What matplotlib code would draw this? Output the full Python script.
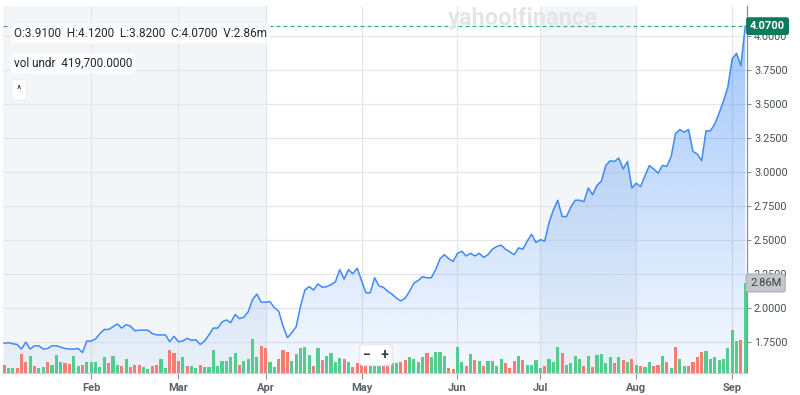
import numpy as np
import pandas as pd
import matplotlib
matplotlib.use("Agg")
import matplotlib.pyplot as plt
import matplotlib.transforms as mtransforms

plt.rcParams["font.family"] = ["Roboto", "DejaVu Sans"]

# === DATA ===
# US market holidays inside the window (trading days only on the x axis)
holidays = ["2024-01-15", "2024-02-19", "2024-03-29", "2024-05-27",
            "2024-06-19", "2024-07-04", "2024-09-02"]
month_labels = ["Feb", "Mar", "Apr", "May", "Jun", "Jul", "Aug", "Sep"]
price_ticks = [1.75, 2.00, 2.25, 2.50, 2.75, 3.00, 3.25, 3.50, 3.75, 4.00]

close = [
    1.738, 1.743, 1.735, 1.73, 1.696, 1.747, 1.696, 1.72, 1.72, 1.696,
    1.70, 1.72, 1.72, 1.71, 1.70, 1.696, 1.696, 1.70, 1.67, 1.755,
    1.755, 1.77, 1.81, 1.84, 1.84, 1.86, 1.88, 1.85, 1.875, 1.865,
    1.83, 1.835, 1.835, 1.835, 1.81, 1.80, 1.80, 1.80, 1.75, 1.79,
    1.75, 1.755, 1.775, 1.76, 1.765, 1.73, 1.755, 1.80, 1.85, 1.85,
    1.895, 1.91, 1.89, 1.95, 1.92, 1.93, 1.97, 2.06, 2.10, 2.04,
    2.04, 2.045, 2.00, 1.975, 1.865, 1.78, 1.815, 1.86, 2.01, 2.13,
    2.155, 2.13, 2.175, 2.15, 2.155, 2.17, 2.19, 2.28, 2.21, 2.28,
    2.25, 2.29, 2.20, 2.11, 2.11, 2.22, 2.16,
    2.15, 2.12, 2.10, 2.07, 2.05, 2.07, 2.12, 2.18, 2.20,
    2.228, 2.22, 2.22, 2.28, 2.36, 2.39, 2.36, 2.34, 2.40, 2.415,
    2.38, 2.40, 2.38, 2.40, 2.37, 2.39, 2.43, 2.45, 2.46, 2.43,
    2.41, 2.39, 2.44, 2.43, 2.49, 2.54, 2.48, 2.50, 2.49, 2.625,
    2.72, 2.79, 2.67, 2.67, 2.74, 2.79, 2.79, 2.78, 2.88, 2.83,
    2.90, 2.93, 3.045, 3.08, 3.075, 3.10, 3.02, 3.075, 2.88, 2.915,
    2.89, 2.97, 3.045, 3.02, 2.99, 3.045, 3.04, 3.11, 3.28, 3.31,
    3.29, 3.31, 3.15, 3.13, 3.08, 3.30, 3.30, 3.35, 3.43, 3.52,
    3.62, 3.83, 3.87, 3.78, 4.07,
]

# volume in millions
volume_m = [
    0.25, 0.17, 0.17, 0.17, 0.59, 0.36, 0.55, 0.23, 0.17, 0.20,
    0.34, 0.27, 0.57, 0.34, 0.31, 0.28, 0.55, 0.23, 0.25, 0.36,
    0.36, 0.36, 0.20, 0.50, 0.31, 0.55, 0.27, 0.23, 0.46, 0.20,
    0.25, 0.27, 0.20, 0.12, 0.23, 0.27, 0.44, 0.15, 0.73, 0.65,
    0.38, 0.50, 0.23,
    0.23, 0.17, 0.25, 0.18, 0.18, 0.73, 0.23, 0.39, 0.39, 0.52,
    0.62, 0.27, 0.39, 0.44, 1.08, 0.50, 0.85, 0.78, 0.36, 0.20,
    0.44, 0.73, 0.68, 0.39, 0.59, 0.80, 0.82, 0.57, 0.23, 0.78,
    0.41, 0.54, 0.64, 0.36, 0.49, 0.44, 0.34, 0.18, 0.31, 0.31,
    0.31, 0.31,
    0.32, 0.32, 0.21, 0.28, 0.32, 0.33, 0.36, 0.41, 0.52, 0.46,
    0.34, 0.52, 0.62, 0.50, 0.68, 0.68, 0.55, 0.17, 0.13, 0.83,
    0.34, 0.21, 0.59, 0.41, 0.39, 0.21, 0.38, 0.38, 0.21, 0.46,
    0.33, 0.17, 0.38, 0.54, 0.42, 0.25, 0.25, 0.42, 0.17, 0.21,
    0.46, 0.34, 0.83,
    0.64, 0.27, 0.31, 0.55, 0.46, 0.23, 0.54, 0.20, 0.57, 0.59,
    0.31, 0.50, 0.33, 0.50, 0.41, 0.34, 0.44, 0.27, 0.23, 0.20,
    0.34, 0.21, 0.26, 0.55, 0.34, 0.15, 0.83, 0.44, 0.21, 0.21,
    0.36, 0.52, 0.68, 0.71, 0.46, 0.52, 0.42, 0.46, 0.78, 1.38,
    1.01, 1.04, 2.86,
]

# u = up day (green bar), d = down day (red bar), ten bars per chunk
direction = "".join([
    "duudddudu" + "u", "duuudduudu", "uuuuduudud", "dduudduudd", "dud",
    "uuduuuuuuu", "uduuuudduu", "ddduuuuudu", "duuuududdd", "du",
    "uudduudduu", "uuduuuuddu", "udududuuuu", "ddduduuuud", "uuu",
    "duuuududuu", "uududududu", "uddududuud", "ddduuuuuuu", "udu",
])

last_ohlc = "O:3.9100  H:4.1200  L:3.8200  C:4.0700  V:2.86m"
vol_undr = "vol undr  419,700.0000"

# === SETUP ===
dates = pd.bdate_range("2024-01-03", "2024-09-06", freq="C", holidays=holidays)
month_starts = pd.to_datetime([f"{m} 1 2024" for m in month_labels], format="%b %d %Y")
month_idx = dates.searchsorted(month_starts)
n = len(close)
x = np.arange(n)
print(len(dates), n, len(volume_m), len(direction))

fig = plt.figure(figsize=(8, 3.95), dpi=100)
ax = fig.add_axes([3 / 800, 22 / 395, 744 / 800, 367 / 395])
axv = ax.twinx()

ymin, ymax = 1.52, 4.218
x0, x1 = -0.23, n - 1 + 0.4

# light shading behind some months
apr, jul, aug = month_idx[2], month_idx[5], month_idx[6]
ax.axvspan(-5, apr, color="#f3f6f9", lw=0, zorder=0.2)
ax.axvspan(jul, aug, color="#f3f6f9", lw=0, zorder=0.2)

ax.set_axisbelow(True)
ax.grid(True, color="#e3e6ea", lw=0.9)

# gradient area under the price line
poly = ax.fill_between(x, close, ymin, facecolor="none", edgecolor="none")
grad = np.zeros((256, 1, 4))
grad[:, 0, :3] = np.array([66, 140, 245]) / 255
grad[:, 0, 3] = np.linspace(0.52, 0.05, 256)
im = ax.imshow(grad, extent=[x[0], x[-1], ymin, ymax], origin="upper",
               aspect="auto", zorder=2)
im.set_clip_path(poly.get_paths()[0], transform=ax.transData)

ax.plot(x, close, color="#4289f5", lw=1.1, zorder=3)
ax.axhline(close[-1], color="#3aa886", lw=0.9, ls=(0, (3.2, 2.4)), zorder=4)

ax.set_xlim(x0, x1)
ax.set_ylim(ymin, ymax)

# === AXES STYLE ===
ax.yaxis.tick_right()
ax.set_yticks(price_ticks)
ax.set_yticklabels([f"{t:.4f}" for t in price_ticks])
ax.set_xticks(month_idx)
ax.set_xticklabels(month_labels)
ax.tick_params(axis="y", direction="out", length=3, color="#8a9096",
               labelsize=7.8, labelcolor="#464e56", pad=2)
ax.tick_params(axis="x", direction="out", length=4, color="#8a9096",
               labelsize=8, labelcolor="#5b636a", pad=3)
for lbl in ax.get_xticklabels():
    lbl.set_fontweight("bold")
for s in ["top", "left"]:
    ax.spines[s].set_visible(False)
ax.spines["bottom"].set_color("#c9ced3")
ax.spines["right"].set_color("#8a9096")
ax.spines["right"].set_linewidth(0.9)

# === VOLUME ===
colors = ["#55cb8f" if d == "u" else "#f47e73" for d in direction]
axv.bar(x, volume_m, width=0.72, color=colors, lw=0, zorder=2)
axv.set_ylim(0, 11.66)
axv.set_xlim(x0, x1)
axv.set_zorder(ax.get_zorder() + 1)
axv.patch.set_visible(False)
axv.set_yticks([])
for s in axv.spines.values():
    s.set_visible(False)

# === LABELS ===
blend = mtransforms.blended_transform_factory(ax.transAxes, ax.transData)
ax.text(1.004, close[-1], f"{close[-1]:.4f}", transform=blend, ha="left",
        va="center", color="white", fontsize=8, fontweight="bold", zorder=10,
        bbox=dict(boxstyle="round,pad=0.35,rounding_size=0.2", fc="#0b7b5b", ec="none"))
blendv = mtransforms.blended_transform_factory(axv.transAxes, axv.transData)
axv.text(1.004, volume_m[-1], f"{volume_m[-1]:.2f}M", transform=blendv, ha="left",
         va="center", color="#3a3f44", fontsize=8, zorder=10,
         bbox=dict(boxstyle="round,pad=0.35,rounding_size=0.2", fc="#c3c7cb", ec="#b0b4b8"))

fig.text(523 / 800, 1 - 19 / 395, "yahoo!finance", ha="center", va="center",
         fontsize=17, fontweight="bold", color="#e3e5e8")

box = dict(boxstyle="round,pad=0.3,rounding_size=0.3", fc="white", ec="none", alpha=0.85)
fig.text(14 / 800, 1 - 33.5 / 395, last_ohlc, ha="left", va="center",
         fontsize=8.5, color="#232a31", bbox=box)
fig.text(14 / 800, 1 - 63.5 / 395, vol_undr, ha="left", va="center",
         fontsize=8.5, color="#232a31", bbox=box)
fig.text(19 / 800, 1 - 90 / 395, "^", ha="center", va="center",
         fontsize=7.5, color="#232a31",
         bbox=dict(boxstyle="round,pad=0.5,rounding_size=0.3", fc="white", ec="#eef0f2"))
fig.text(376 / 800, 1 - 355 / 395, "\u2212   +", ha="center", va="center",
         fontsize=10, fontweight="bold", color="#3a3f44",
         bbox=dict(boxstyle="round,pad=0.25,rounding_size=0.3", fc="white", ec="#e6e8eb"))

fig.savefig("out.png", dpi=100)
